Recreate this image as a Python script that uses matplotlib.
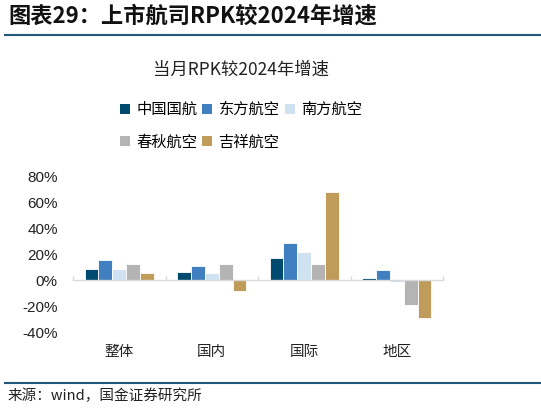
import matplotlib
matplotlib.use("Agg")
import matplotlib.pyplot as plt
import numpy as np
from matplotlib.lines import Line2D
from matplotlib.patches import Patch

plt.rcParams["font.family"] = ["Noto Sans CJK SC", "DejaVu Sans"]

categories = ["整体", "国内", "国际", "地区"]
airlines = ["中国国航", "东方航空", "南方航空", "春秋航空", "吉祥航空"]
air_china = [8.8, 6.5, 16.8, 1.8]
china_eastern = [15.7, 11.1, 28.4, 7.5]
china_southern = [8.8, 5.2, 21.4, -1.5]
spring = [12.1, 12.1, 12.1, -19.0]
juneyao = [5.2, -8.5, 67.9, -29.4]
series = [air_china, china_eastern, china_southern, spring, juneyao]
colors = ["#004a70", "#4080c0", "#d0e2f2", "#b4b4b4", "#c09c5a"]
yticks = [-40, -20, 0, 20, 40, 60, 80]

W, H = 541, 416
fig = plt.figure(figsize=(W / 100, H / 100), dpi=100)


def fx(px):
    return px / W


def fy(py):
    return 1 - py / H


ax = fig.add_axes([fx(73), fy(332), fx(443) - fx(73), fy(176) - fy(332)])

x = np.arange(len(categories))
bw = 0.15
for i, (vals, c) in enumerate(zip(series, colors)):
    ax.bar(x + (i - 2) * bw, vals, width=bw, color=c, edgecolor="white",
           linewidth=0.6, label=airlines[i], zorder=2)

ax.set_xlim(-0.5, len(categories) - 0.5)
ax.set_ylim(-40, 80)
ax.set_yticks(yticks)
ax.set_yticklabels([f"{v}%" for v in yticks], fontsize=11,
                   family=["Liberation Sans", "DejaVu Sans"], color="#222222")
ax.tick_params(axis="y", length=0, pad=11)

# zero line as bottom spine, with category boundary ticks
for s in ("top", "right", "left"):
    ax.spines[s].set_visible(False)
ax.spines["bottom"].set_position(("data", 0))
ax.spines["bottom"].set_color("#d9d9d9")
ax.spines["bottom"].set_linewidth(1.0)
ax.set_xticks(np.arange(-0.5, len(categories), 1.0))
ax.set_xticklabels([])
ax.tick_params(axis="x", direction="in", length=3, color="#d9d9d9", width=1.0)

trans = matplotlib.transforms.blended_transform_factory(ax.transData, ax.transAxes)
for xi, cat in zip(x, categories):
    ax.text(xi, -0.13, cat, transform=trans, ha="center", va="center",
            fontsize=10.5, color="#222222")

# headline and rules
fig.text(fx(8), fy(16), "图表29：上市航司RPK较2024年增速", ha="left", va="center",
         fontsize=16, fontweight="bold", style="italic", color="#111111")
fig.add_artist(Line2D([fx(5), 1], [fy(35), fy(35)], color="#24587a", lw=1.5))
fig.add_artist(Line2D([fx(5), 1], [fy(383), fy(383)], color="#24587a", lw=1.5))
fig.text(fx(8), fy(396), "来源：wind，国金证券研究所", ha="left", va="center",
         fontsize=10.5, color="#222222")

# chart title
fig.text(fx(241), fy(70), "当月RPK较2024年增速", ha="center", va="center",
         fontsize=12.5, color="#222222")

# legend in row-major order
handles = [Patch(facecolor=c, edgecolor="none") for c in colors]
order = [0, 3, 1, 4, 2]
fig.legend([handles[i] for i in order], [airlines[i] for i in order],
           ncol=3, loc="upper left", bbox_to_anchor=(fx(120), fy(101)),
           frameon=False, fontsize=11, handlelength=0.65, handleheight=0.65,
           handletextpad=0.4, columnspacing=0.35, labelspacing=1.0,
           borderpad=0, borderaxespad=0)

fig.savefig("out.png", dpi=100)
